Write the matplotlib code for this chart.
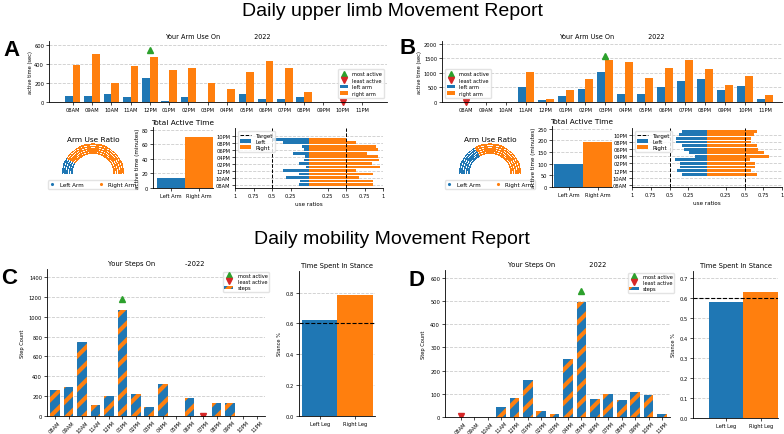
import numpy as np
import matplotlib
matplotlib.use("Agg")
import matplotlib.pyplot as plt
from matplotlib.lines import Line2D

# data
hours = ['08AM', '09AM', '10AM', '11AM', '12PM', '01PM', '02PM', '03PM',
         '04PM', '05PM', '06PM', '07PM', '08PM', '09PM', '10PM', '11PM']

# panel A
a_left = [60, 65, 85, 55, 250, 10, 55, 5, 5, 80, 30, 35, 50, 0, 0, 0]
a_right = [390, 500, 195, 380, 470, 335, 360, 195, 140, 315, 435, 360, 100, 0, 0, 0]
a_most, a_least = 4, 14
a_total = [14, 70]
a_ratio_left = [0.14, 0.12, 0.31, 0.14, 0.35, 0.04, 0.14, 0.07, 0.05, 0.21, 0.07, 0.10, 0.35, 0.50]
a_ratio_right = [0.86, 0.87, 0.68, 0.86, 0.64, 0.96, 0.85, 0.94, 0.93, 0.78, 0.93, 0.90, 0.64, 0.50]
a_ratio_pos = list(range(0, 14))

# panel B
b_left = [0, 0, 0, 500, 80, 220, 440, 1040, 270, 260, 530, 740, 800, 420, 550, 110]
b_right = [0, 0, 0, 1020, 120, 430, 780, 1430, 1370, 820, 1160, 1430, 1120, 590, 910, 230]
b_most, b_least = 7, 0
b_total = [100, 192]
b_ratio_left = [0.33, 0.40, 0.36, 0.36, 0.43, 0.16, 0.24, 0.31, 0.34, 0.41, 0.41, 0.37, 0.33]
b_ratio_right = [0.67, 0.59, 0.64, 0.64, 0.57, 0.83, 0.76, 0.68, 0.66, 0.58, 0.58, 0.62, 0.67]
b_ratio_pos = list(range(3, 16))

# panel C / D
c_steps = [265, 295, 748, 115, 205, 1070, 225, 90, 325, 0, 185, 0, 135, 135, 0, 0]
c_most, c_least = 5, 11
c_stance = [0.62, 0.785]
d_steps = [0, 0, 0, 45, 83, 160, 25, 15, 250, 495, 78, 100, 75, 106, 97, 15]
d_most, d_least = 9, 0
d_stance = [0.578, 0.632]
stance_target = 0.6

ratio_ticks = [-1, -0.75, -0.5, -0.25, 0.25, 0.5, 0.75, 1]
ratio_labels = ['1', '0.75', '0.5', '0.25', '0.25', '0.5', '0.75', '1']

BLUE, ORANGE = '#1f77b4', '#ff7f0e'
W, H = 784, 435
fs = 3.7

plt.rcParams['font.size'] = fs
plt.rcParams['hatch.linewidth'] = 3.0
fig = plt.figure(figsize=(W / 100, H / 100), dpi=100)


def ax_px(x0, y0, x1, y1):
    return fig.add_axes([x0 / W, 1 - y1 / H, (x1 - x0) / W, (y1 - y0) / H])


def clean(ax):
    ax.spines['top'].set_visible(False)
    ax.spines['right'].set_visible(False)
    ax.tick_params(labelsize=fs, length=2, width=0.5, pad=1.5)
    for s in ax.spines.values():
        s.set_linewidth(0.6)
    ax.grid(axis='y', linestyle='--', color='#cccccc', linewidth=0.6)
    ax.set_axisbelow(True)


def arm_bars(ax, left, right, most, least, xlim, ylim, yticks, loc, anchor):
    x = np.arange(len(hours))
    bl = ax.bar(x - 0.2, left, 0.4, color=BLUE)
    br = ax.bar(x + 0.2, right, 0.4, color=ORANGE)
    top = max(max(left), max(right))
    mo, = ax.plot(most, top * 1.1, '^', color='#2ca02c', ms=4)
    le, = ax.plot(least, 0, 'v', color='#d62728', ms=4, clip_on=False)
    ax.set_xticks(x)
    ax.set_xticklabels(hours)
    ax.set_xlim(*xlim)
    ax.set_ylim(*ylim)
    ax.set_yticks(yticks)
    ax.set_ylabel('active time (sec)', fontsize=fs, labelpad=1)
    ax.set_title('Your Arm Use On                2022', fontsize=fs + 1, pad=2)
    clean(ax)
    ax.legend([mo, le, bl, br], ['most active', 'least active', 'left arm', 'right arm'],
              fontsize=fs, loc=loc, bbox_to_anchor=anchor, framealpha=0.8,
              handlelength=1.6, borderpad=0.4, labelspacing=0.3, edgecolor='#dddddd')


def gauge(x0, y0, x1, y1, total):
    ax = ax_px(x0, y0, x1, y1)
    frac_left = total[0] / sum(total)
    split = np.pi * (1 - frac_left)
    ang = np.linspace(np.pi, 0, 56)
    rad = np.linspace(0.70, 1.0, 5)
    A, R = np.meshgrid(ang, rad)
    A, R = A.ravel(), R.ravel()
    cols = np.where(A >= split, BLUE, ORANGE)
    ax.scatter(R * np.cos(A), R * np.sin(A), s=1.6, marker='s', c=cols, linewidths=0)
    ax.set_xlim(-1.25, 1.25)
    ax.set_ylim(-0.05, 1.08)
    ax.axis('off')
    ax.set_title('Arm Use Ratio', fontsize=fs + 1.6, pad=0)
    hl = [Line2D([], [], ls='', marker='.', color=BLUE, ms=2.5),
          Line2D([], [], ls='', marker='.', color=ORANGE, ms=2.5)]
    ax.legend(hl, ['Left Arm', 'Right Arm'], ncol=2, loc='upper center',
              bbox_to_anchor=(0.5, -0.08), fontsize=fs + 0.4, handlelength=1,
              columnspacing=2.6, borderpad=0.3, edgecolor='#dddddd')


def totals(ax, total, xlim, ylim, yticks):
    ax.bar([0, 1], total, 1.0, color=[BLUE, ORANGE])
    ax.set_xticks([0, 1])
    ax.set_xticklabels(['Left Arm', 'Right Arm'], fontsize=fs + 0.4)
    ax.set_xlim(*xlim)
    ax.set_ylim(*ylim)
    ax.set_yticks(yticks)
    ax.set_ylabel('active time (minutes)', fontsize=fs + 0.4, labelpad=1)
    ax.set_title('Total Active Time', fontsize=fs + 1.6, pad=2)
    clean(ax)


def ratios(ax, pos, left, right, ylim):
    lb = ax.barh(pos, [-v for v in left], 0.8, color=BLUE)
    rb = ax.barh(pos, right, 0.8, color=ORANGE)
    tl = ax.axvline(-0.5, color='k', ls='--', lw=0.7)
    ax.axvline(0.5, color='k', ls='--', lw=0.7)
    ax.set_xlim(-1, 1)
    ax.set_ylim(*ylim)
    ax.set_xticks(ratio_ticks)
    ax.set_xticklabels(ratio_labels, fontsize=fs + 0.4)
    ax.set_yticks(range(0, 16, 2))
    ax.set_yticklabels(hours[::2])
    ax.set_xlabel('use ratios', fontsize=fs + 0.4, labelpad=2)
    clean(ax)
    ax.legend([tl, lb, rb], ['Target', 'Left', 'Right'], loc='upper left',
              fontsize=fs + 0.4, handlelength=2, borderpad=0.3, labelspacing=0.2,
              edgecolor='#dddddd')


def steps(ax, vals, most, least, xlim, ylim, yticks, title):
    x = np.arange(len(hours))
    st = ax.bar(x, vals, 0.72, color=BLUE, edgecolor=ORANGE, hatch='//', linewidth=0)
    mo, = ax.plot(most, max(vals) * 1.1, '^', color='#2ca02c', ms=4)
    le, = ax.plot(least, 5, 'v', color='#d62728', ms=4)
    ax.set_xticks(x)
    ax.set_xticklabels(hours, rotation=45, fontsize=fs - 0.6)
    ax.set_xlim(*xlim)
    ax.set_ylim(*ylim)
    ax.set_yticks(yticks)
    ax.set_ylabel('Step Count', fontsize=fs, labelpad=3)
    ax.set_title(title, fontsize=fs + 1.2, pad=3)
    clean(ax)
    ax.tick_params(axis='x', pad=0.5)
    ax.legend([mo, le, st], ['most active', 'least active', 'steps'], loc='upper right',
              bbox_to_anchor=(1.03, 1.0), fontsize=fs, handlelength=1.8,
              borderpad=0.3, labelspacing=0.2, edgecolor='#dddddd')


def stance(ax, vals, xlim, ylim, yticks):
    ax.bar([0, 1], vals, 1.0, color=[BLUE, ORANGE])
    ax.axhline(stance_target, color='k', ls='--', lw=0.8)
    ax.set_xticks([0, 1])
    ax.set_xticklabels(['Left Leg', 'Right Leg'])
    ax.set_xlim(*xlim)
    ax.set_ylim(*ylim)
    ax.set_yticks(yticks)
    ax.set_ylabel('Stance %', fontsize=fs, labelpad=3)
    ax.set_title('Time Spent In Stance', fontsize=fs + 1.2, pad=3)
    clean(ax)


# headings
fig.text(392 / W, 1 - 12 / H, 'Daily upper limb Movement Report', ha='center', va='center',
         fontsize=14, family='Liberation Sans')
fig.text(392 / W, 1 - 240 / H, 'Daily mobility Movement Report', ha='center', va='center',
         fontsize=14, family='Liberation Sans')
for lab, x, y in [('A', 11, 51), ('B', 408, 48), ('C', 9, 278), ('D', 417, 280)]:
    fig.text(x / W, 1 - y / H, lab, ha='center', va='center', fontsize=16,
             fontweight='bold', family='Liberation Sans')

# panel A
ax = ax_px(49, 42, 387, 103)
arm_bars(ax, a_left, a_right, a_most, a_least, (-1.23, 16.3), (0, 640),
         [0, 200, 400, 600], 'center right', (1.0, 0.3))
gauge(55, 143, 131, 176, a_total)
totals(ax_px(153, 128, 213, 189), a_total, (-0.64, 1.5), (0, 84), [0, 20, 40, 60, 80])
ratios(ax_px(235, 129, 383, 189), a_ratio_pos, a_ratio_left, a_ratio_right, (-1, 16.2))

# panel B
ax = ax_px(442, 42, 782, 103)
arm_bars(ax, b_left, b_right, b_most, b_least, (-1.2, 15.86), (0, 2100),
         [0, 500, 1000, 1500, 2000], 'center left', (0.0, 0.3))
gauge(452, 143, 528, 176, b_total)
totals(ax_px(552, 127, 612, 188), b_total, (-0.57, 1.5), (0, 262), [0, 50, 100, 150, 200, 250])
ratios(ax_px(632, 129, 782, 188), b_ratio_pos, b_ratio_left, b_ratio_right, (-0.6, 15.9))

# panel C
steps(ax_px(47, 270, 265, 417), c_steps, c_most, c_least, (-0.6, 15.6), (0, 1480),
      range(0, 1401, 200), 'Your Steps On              -2022')
stance(ax_px(299, 272, 375, 417), c_stance, (-0.585, 1.565), (0, 0.94),
       [0.0, 0.2, 0.4, 0.6, 0.8])

# panel D
steps(ax_px(445, 271, 670, 418), d_steps, d_most, d_least, (-1.17, 15.6), (0, 634),
      range(0, 601, 100), 'Your Steps On                2022')
stance(ax_px(693, 272, 778, 419), d_stance, (-0.95, 1.5), (0, 0.735),
       [0.0, 0.1, 0.2, 0.3, 0.4, 0.5, 0.6, 0.7])

fig.savefig('out.png', dpi=100)
